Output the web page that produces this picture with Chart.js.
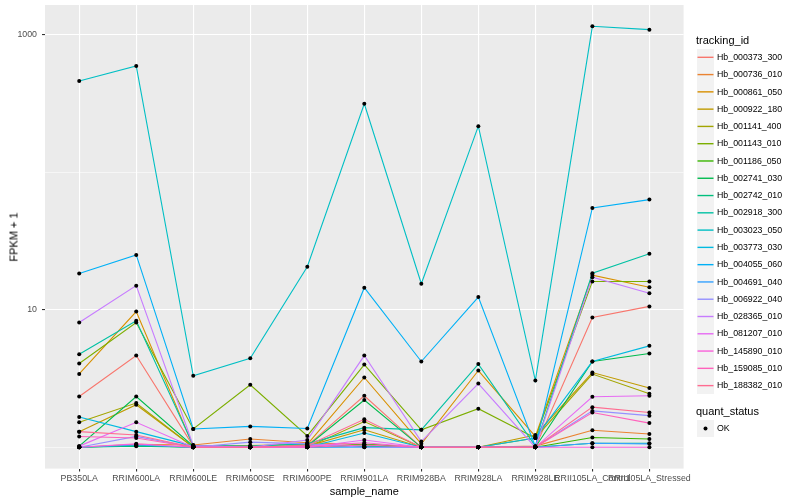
<!DOCTYPE html>
<html>
<head>
<meta charset="utf-8">
<script src="https://cdn.jsdelivr.net/npm/chart.js@4.4.0/dist/chart.umd.min.js"></script>
<style>
  body { margin: 0; background: #fff; overflow: hidden; font-family: "Liberation Sans", Arial, sans-serif; }
  #wrap { position: relative; width: 800px; height: 500px; }
  #chart { position: absolute; left: 0; top: 0; }
  .txt { position: absolute; white-space: nowrap; color: #000; font-weight: normal; }
  .title { font-size: 11px; line-height: 13px; }
  .key { position: absolute; width: 17px; background: #F2F2F2; }
  .key svg { position: absolute; left: 0; top: 0; }
  .lab { font-size: 8.8px; }
</style>
</head>
<body>
<div id="wrap">
  <canvas id="chart" width="800" height="500"></canvas>
  <div class="txt title" id="ytitle" style="left:13.5px; top:236.8px; transform: translate(-50%, -50%) rotate(-90deg);">FPKM + 1</div>
  <div class="txt title" id="xtitle" style="left:364.3px; top:491px; transform: translate(-50%, -50%);">sample_name</div>
  <div id="legend"></div>
</div>
<script>
const samples = ['PB350LA', 'RRIM600LA', 'RRIM600LE', 'RRIM600SE', 'RRIM600PE', 'RRIM901LA',
                 'RRIM928BA', 'RRIM928LA', 'RRIM928LE', 'RRII105LA_Control', 'RRII105LA_Stressed'];

const trackingIds = ['Hb_000373_300', 'Hb_000736_010', 'Hb_000861_050', 'Hb_000922_180', 'Hb_001141_400',
                     'Hb_001143_010', 'Hb_001186_050', 'Hb_002741_030', 'Hb_002742_010', 'Hb_002918_300',
                     'Hb_003023_050', 'Hb_003773_030', 'Hb_004055_060', 'Hb_004691_040', 'Hb_006922_040',
                     'Hb_028365_010', 'Hb_081207_010', 'Hb_145890_010', 'Hb_159085_010', 'Hb_188382_010'];

const seriesColors = ['#F8766D', '#EA8331', '#D89000', '#C09B00', '#A3A500', '#7CAE00', '#39B600', '#00BB4E',
                      '#00BF7D', '#00C1A3', '#00BFC4', '#00BAE0', '#00B0F6', '#35A2FF', '#9590FF', '#C77CFF',
                      '#E76BF3', '#FA62DB', '#FF62BC', '#FF6C91'];

// FPKM + 1, one array per tracking_id, in sample order
const hb_000373_300 = [2.34, 4.65, 1.02, 1.0, 1.03, 2.37, 1.0, 1.0, 1.0, 8.79, 10.6];
const hb_000736_010 = [1.0, 1.05, 1.04, 1.15, 1.08, 1.05, 1.0, 1.0, 1.02, 1.33, 1.25];
const hb_000861_050 = [3.42, 9.72, 1.02, 1.03, 1.05, 3.22, 1.06, 3.62, 1.2, 17.9, 14.6];
const hb_000922_180 = [1.3, 2.04, 1.0, 1.0, 1.02, 1.34, 1.0, 1.0, 1.23, 3.5, 2.7];
const hb_001141_400 = [1.52, 2.1, 1.0, 1.0, 1.0, 1.54, 1.0, 1.0, 1.17, 3.41, 2.45];
const hb_001143_010 = [4.07, 8.09, 1.36, 2.85, 1.21, 4.0, 1.34, 1.91, 1.17, 16.1, 16.1];
const hb_001186_050 = [1.0, 1.03, 1.0, 1.0, 1.0, 1.05, 1.0, 1.0, 1.0, 1.18, 1.15];
const hb_002741_030 = [1.02, 2.34, 1.02, 1.0, 1.02, 2.21, 1.0, 1.0, 1.0, 4.21, 4.81];
const hb_002742_010 = [1.0, 1.02, 1.0, 1.0, 1.0, 1.02, 1.0, 1.0, 1.0, 1.07, 1.07];
const hb_002918_300 = [4.76, 8.32, 1.03, 1.02, 1.06, 1.39, 1.34, 4.03, 1.02, 18.5, 25.6];
const hb_003023_050 = [462, 595, 3.31, 4.45, 20.6, 316, 15.5, 217, 3.06, 1156, 1093];
const hb_003773_030 = [1.66, 1.3, 1.02, 1.0, 1.0, 1.27, 1.0, 1.0, 1.17, 4.21, 5.47];
const hb_004055_060 = [18.4, 25.1, 1.36, 1.42, 1.37, 14.5, 4.21, 12.4, 1.01, 55.2, 63.4];
const hb_004691_040 = [1.0, 1.04, 1.0, 1.0, 1.0, 1.0, 1.0, 1.0, 1.0, 1.07, 1.06];
const hb_006922_040 = [1.0, 1.2, 1.0, 1.09, 1.06, 1.0, 1.0, 1.0, 1.0, 1.84, 1.7];
const hb_028365_010 = [8.09, 15.0, 1.03, 1.0, 1.13, 4.65, 1.1, 2.91, 1.0, 17.3, 13.2];
const hb_081207_010 = [1.02, 1.52, 1.0, 1.0, 1.0, 1.13, 1.0, 1.0, 1.0, 2.33, 2.37];
const hb_145890_010 = [1.0, 1.06, 1.0, 1.0, 1.02, 1.08, 1.0, 1.0, 1.0, 1.0, 1.0];
const hb_159085_010 = [1.2, 1.17, 1.0, 1.0, 1.0, 1.04, 1.0, 1.0, 1.0, 1.79, 1.5];
const hb_188382_010 = [1.3, 1.23, 1.0, 1.0, 1.03, 1.6, 1.0, 1.0, 1.0, 1.96, 1.79];

const seriesValues = [hb_000373_300, hb_000736_010, hb_000861_050, hb_000922_180, hb_001141_400,
                      hb_001143_010, hb_001186_050, hb_002741_030, hb_002742_010, hb_002918_300,
                      hb_003023_050, hb_003773_030, hb_004055_060, hb_004691_040, hb_006922_040,
                      hb_028365_010, hb_081207_010, hb_145890_010, hb_159085_010, hb_188382_010];

const yMajorTicks = [10, 1000];
const yMinorTicks = [1, 100];
const quantStatus = ['OK'];

const fontFamily = '"Liberation Sans", Arial, sans-serif';

// ggplot-ish grey panel behind the plot area
const panelBg = {
    id: 'panelBg',
    beforeDraw(chart) {
        const a = chart.chartArea;
        const ctx = chart.ctx;
        ctx.save();
        ctx.fillStyle = '#EBEBEB';
        ctx.fillRect(a.left, a.top, a.right - a.left, a.bottom - a.top);
        ctx.restore();
    }
};

function buildDatasets() {
    const n = seriesValues.length;
    const lines = seriesValues.map((vals, i) => ({
        label: trackingIds[i],
        data: vals.map((v, j) => ({x: j, y: v})),
        borderColor: seriesColors[i],
        backgroundColor: seriesColors[i],
        borderWidth: 1.1,
        pointRadius: 0,
        fill: false,
        tension: 0,
        order: n - i
    }));
    const pts = [];
    seriesValues.forEach(vals => vals.forEach((v, j) => pts.push({x: j, y: v})));
    lines.push({
        label: quantStatus[0],
        data: pts,
        showLine: false,
        pointRadius: 2,
        pointHoverRadius: 2,
        pointBackgroundColor: '#000',
        pointBorderWidth: 0,
        borderColor: '#000',
        order: 0
    });
    return lines;
}

function isMajor(ctx) {
    return ctx.tick && yMajorTicks.includes(ctx.tick.value);
}

new Chart(document.getElementById('chart'), {
    type: 'line',
    data: {datasets: buildDatasets()},
    options: {
        responsive: false,
        animation: false,
        events: [],
        layout: {padding: {top: 5, right: 116.4, bottom: 0, left: 0}},
        plugins: {
            legend: {display: false},
            tooltip: {enabled: false}
        },
        scales: {
            x: {
                type: 'linear',
                min: -0.6,
                max: samples.length - 0.4,
                afterBuildTicks: s => { s.ticks = samples.map((_, i) => ({value: i})); },
                afterFit: s => { s.height = 31.4; s.paddingLeft = 0; s.paddingRight = 0; },
                border: {display: false},
                grid: {color: '#FFFFFF', lineWidth: 1.1, tickColor: '#333333', tickLength: 3},
                ticks: {
                    callback: v => samples[v],
                    autoSkip: false, maxRotation: 0, minRotation: 0,
                    color: '#4D4D4D', font: {family: fontFamily, size: 8.8}, padding: 2
                }
            },
            y: {
                type: 'logarithmic',
                min: 0.702,
                max: 1652,
                afterBuildTicks: s => {
                    s.ticks = yMinorTicks.concat(yMajorTicks).sort((a, b) => a - b).map(v => ({value: v}));
                },
                afterFit: s => { s.width = 45; s.paddingTop = 0; s.paddingBottom = 0; },
                border: {display: false},
                grid: {
                    color: '#FFFFFF',
                    lineWidth: ctx => isMajor(ctx) ? 1.1 : 0.55,
                    tickColor: ctx => isMajor(ctx) ? '#333333' : 'rgba(0,0,0,0)',
                    tickLength: 3
                },
                ticks: {
                    callback: v => yMajorTicks.includes(v) ? String(v) : '',
                    autoSkip: false,
                    color: '#4D4D4D', font: {family: fontFamily, size: 8.8}, padding: 5
                }
            }
        }
    },
    plugins: [panelBg]
});

// legend, ggplot style
function buildLegend() {
    const box = document.getElementById('legend');
    let html = '<div class="txt title" style="left:696px; top:34px;">tracking_id</div>';
    const rowH = 17.28;
    const row = (center, inner, text) => {
        const top = Math.round(center - rowH / 2);
        const h = Math.round(center + rowH / 2) - top;
        const mid = center - top;
        return '<div class="key" style="left:697px; top:' + top + 'px; height:' + h + 'px;">' +
               '<svg width="17" height="' + h + '">' + inner(mid) + '</svg></div>' +
               '<div class="txt lab" style="left:717px; top:' + top + 'px; line-height:' + h + 'px;">' + text + '</div>';
    };
    trackingIds.forEach((id, i) => {
        const col = seriesColors[i];
        html += row(57.3 + i * rowH,
            mid => '<line x1="0.5" x2="16.5" y1="' + mid + '" y2="' + mid + '" stroke="' + col + '" stroke-width="1.4"/>',
            id);
    });
    html += '<div class="txt title" style="left:696px; top:405px;">quant_status</div>';
    quantStatus.forEach((q, i) => {
        html += row(428.4 + i * rowH,
            mid => '<circle cx="8.5" cy="' + mid + '" r="2" fill="#000"/>',
            q);
    });
    box.innerHTML = html;
}

buildLegend();
</script>
</body>
</html>
